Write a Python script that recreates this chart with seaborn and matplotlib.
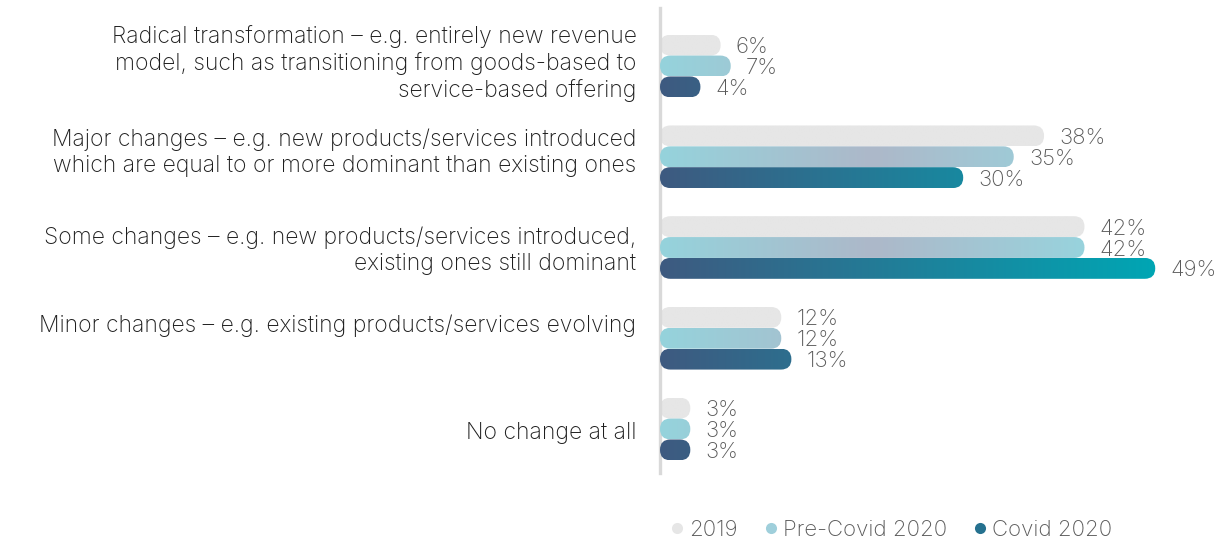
import numpy as np
import pandas as pd
import matplotlib
matplotlib.use("Agg")
import matplotlib.pyplot as plt
import seaborn as sns
from matplotlib.patches import FancyBboxPatch
from matplotlib.colors import LinearSegmentedColormap
from matplotlib.lines import Line2D
from matplotlib.transforms import ScaledTranslation

# ---- data -------------------------------------------------------------
categories = [
    "Radical transformation – e.g. entirely new revenue\n"
    "model, such as transitioning from goods-based to\n"
    "service-based offering",
    "Major changes – e.g. new products/services introduced\n"
    "which are equal to or more dominant than existing ones",
    "Some changes – e.g. new products/services introduced,\n"
    "existing ones still dominant",
    "Minor changes – e.g. existing products/services evolving",
    "No change at all",
]
series = ["2019", "Pre-Covid 2020", "Covid 2020"]
values_2019 = [6, 38, 42, 12, 3]
values_pre_covid = [7, 35, 42, 12, 3]
values_covid = [4, 30, 49, 13, 3]

df = pd.DataFrame({
    "category": categories * 3,
    "series": np.repeat(series, len(categories)),
    "value": values_2019 + values_pre_covid + values_covid,
})

# ---- styling ----------------------------------------------------------
sns.set_theme(style="white")
plt.rcParams["font.family"] = ["Inter", "Open Sans", "DejaVu Sans"]
plt.rcParams["font.weight"] = "light"

label_color = "#1e1e1e"
value_color = "#595959"
solid_colors = ["#e6e6e6", "#9fcfdb", "#25718f"]
gradients = {
    "2019": (LinearSegmentedColormap.from_list("g0", ["#e6e6e6", "#e6e6e6"]), 49),
    "Pre-Covid 2020": (LinearSegmentedColormap.from_list(
        "g1", ["#95d3dc", "#adb8c9", "#98d3dd"]), 42),
    "Covid 2020": (LinearSegmentedColormap.from_list(
        "g2", ["#3e5a80", "#00a6b4"]), 49),
}

W, H = 1227, 541
fig = plt.figure(figsize=(W / 100, H / 100), dpi=100)
ax_left, ax_right, ax_top, ax_bottom = 660, 1227, 8, 473
ax = fig.add_axes([ax_left / W, 1 - ax_bottom / H,
                   (ax_right - ax_left) / W, (ax_bottom - ax_top) / H])

sns.barplot(data=df, y="category", x="value", hue="series", orient="h",
            order=categories, hue_order=series, palette=solid_colors,
            width=0.69, legend=False, ax=ax)

xmax = 56.1
row_px = 90.75
ymin = -(66 - ax_top) / row_px
ymax = (len(categories) - 1) + (ax_bottom - 429) / row_px
ax.set_xlim(0, xmax)
ax.set_ylim(ymax, ymin)

px_per_x = (ax_right - ax_left) / xmax
px_per_y = row_px

# replace each flat bar with a rounded, gradient-filled pill
bars = list(ax.patches)
n = len(categories)
for idx, bar in enumerate(bars):
    s = series[idx // n]
    x0, y0 = bar.get_x(), bar.get_y()
    w, h = bar.get_width(), bar.get_height()
    if w <= 0:
        continue
    bar.set_visible(False)
    z = 2 + series.index(s)
    ry = h / 2
    rx = ry * px_per_y / px_per_x
    pill = FancyBboxPatch((x0, y0), w, h,
                          boxstyle=f"round,pad=0,rounding_size={rx}",
                          mutation_aspect=ry / rx,
                          facecolor="none", edgecolor="none",
                          zorder=z)
    ax.add_patch(pill)
    cmap, gmax = gradients[s]
    grad = np.linspace(0, 1, 256).reshape(1, -1)
    im = ax.imshow(grad, extent=[0, gmax, y0 + h, y0], cmap=cmap,
                   aspect="auto", interpolation="bilinear", zorder=z)
    im.set_clip_path(pill)
    ax.annotate(f"{int(round(w))}%", xy=(x0 + w, y0 + h / 2),
                xytext=(11, -1.5), textcoords="offset points",
                ha="left", va="center", fontsize=16, color=value_color,
                zorder=6)

ax.set_xlim(0, xmax)
ax.set_ylim(ymax, ymin)

# axes decoration
for side in ["top", "right", "bottom"]:
    ax.spines[side].set_visible(False)
ax.spines["left"].set_color("#d9d9d9")
ax.spines["left"].set_linewidth(2.4)
ax.set_xticks([])
ax.set_xlabel("")
ax.set_ylabel("")
ax.tick_params(axis="y", length=0, pad=17, labelsize=16.5, labelcolor=label_color)
label_shift = [5, 6, 1, 11, -1]  # vertical nudge in points
for lab, dy in zip(ax.get_yticklabels(), label_shift):
    lab.set_linespacing(1.23)
    lab.set_transform(lab.get_transform() +
                      ScaledTranslation(0, dy / 72, fig.dpi_scale_trans))

# legend
handles = [Line2D([0], [0], marker="o", linestyle="none", markersize=8,
                  markerfacecolor=c, markeredgecolor="none")
           for c in solid_colors]
leg = fig.legend(handles, series, loc="center", ncol=3, frameon=False,
                 bbox_to_anchor=(889 / W, 1 - 530 / H), fontsize=16,
                 handletextpad=0.05, columnspacing=1.0, handlelength=1.0)
for t in leg.get_texts():
    t.set_color(value_color)

fig.savefig("out.png", dpi=100)
